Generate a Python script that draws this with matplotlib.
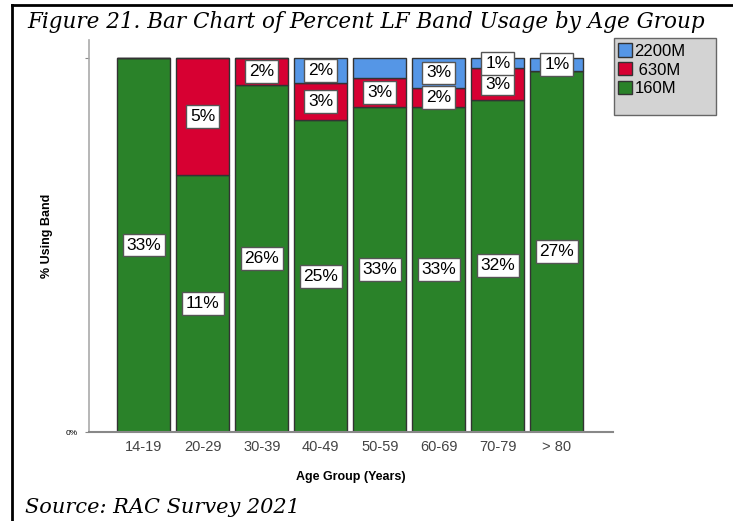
import numpy as np
import matplotlib.pyplot as plt
from matplotlib.patches import Patch, Rectangle
from matplotlib.lines import Line2D

# 年齢層ごとのバンド利用率(%)
age_groups = ['14-19', '20-29', '30-39', '40-49', '50-59', '60-69', '70-79', '> 80']
band_160m = [33, 11, 26, 25, 33, 33, 32, 27]
band_630m = [0, 5, 2, 3, 3, 2, 3, 0]
band_2200m = [0, 0, 0, 2, 2, 3, 1, 1]
# ラベルを表示しないセグメント
hide_2200m_label = [False, False, False, False, True, False, False, False]

green = '#2a8229'
red = '#d70032'
blue = '#5596e6'

# 各バーを合計で割って100%積み上げにする
g = np.array(band_160m, dtype=float)
r = np.array(band_630m, dtype=float)
b = np.array(band_2200m, dtype=float)
total = g + r + b
g_n = g / total
r_n = r / total
b_n = b / total

fig = plt.figure(figsize=(7.33, 5.21), dpi=100)
ax = fig.add_axes([0.1214, 0.1708, 0.7146, 0.7522])

x = np.arange(len(age_groups))
w = 0.9
ax.bar(x, g_n, w, color=green, edgecolor='#333333', linewidth=1)
ax.bar(x, r_n, w, bottom=g_n, color=red, edgecolor='#333333', linewidth=1)
ax.bar(x, b_n, w, bottom=g_n + r_n, color=blue, edgecolor='#333333', linewidth=1)

# 値ラベル
box = dict(boxstyle='square,pad=0.22', facecolor='white', edgecolor='#555555', linewidth=1)
def put_label(xi, y, v):
    ax.text(xi, y, f'{int(v)}%', ha='center', va='center', fontsize=12.5,
            family='Liberation Sans', bbox=box, zorder=5)

for i in range(len(age_groups)):
    put_label(x[i], g_n[i] / 2, band_160m[i])
    if band_630m[i] > 0:
        put_label(x[i], g_n[i] + r_n[i] / 2, band_630m[i])
    if band_2200m[i] > 0 and not hide_2200m_label[i]:
        put_label(x[i], g_n[i] + r_n[i] + b_n[i] / 2, band_2200m[i])

ax.set_xlim(-0.93, 7.95)
ax.set_ylim(0, 1.048)
ax.set_xticks(x)
ax.set_xticklabels(age_groups, fontsize=10.5, color='#444444', family='Liberation Sans')
ax.set_yticks([0, 1])
ax.set_yticklabels(['0%', ''], fontsize=6, family='Liberation Sans')
ax.tick_params(axis='x', length=0, pad=6)
ax.tick_params(axis='y', length=3, color='#888888', pad=5)
for s in ['top', 'right']:
    ax.spines[s].set_visible(False)
ax.spines['left'].set_color('#aaaaaa')
ax.spines['bottom'].set_color('#888888')
ax.spines['left'].set_linewidth(1.2)
ax.spines['bottom'].set_linewidth(1.5)

ax.set_xlabel('Age Group (Years)', fontsize=9, fontweight='bold', family='Liberation Sans', labelpad=12)
ax.set_ylabel('% Using Band', fontsize=9, fontweight='bold', family='Liberation Sans')
ax.yaxis.set_label_coords(-0.068, 0.5)

# 凡例(枠は別に描く)
fig.add_artist(Rectangle((0.8377, 0.7793), 0.139, 0.1478, transform=fig.transFigure,
                         facecolor='#d3d3d3', edgecolor='#666666', linewidth=1))
handles = [Patch(facecolor=blue, edgecolor='#333333'),
           Patch(facecolor=red, edgecolor='#333333'),
           Patch(facecolor=green, edgecolor='#333333')]
leg = fig.legend(handles, ['2200M', ' 630M', '160M'], loc='upper left',
                 bbox_to_anchor=(0.838, 0.923), frameon=False,
                 prop={'family': 'Liberation Sans', 'size': 12},
                 handlelength=0.85, handleheight=0.85, handletextpad=0.15,
                 labelspacing=0.2, borderpad=0.2, borderaxespad=0)

# タイトルと出典
fig.text(0.5, 0.958, 'Figure 21. Bar Chart of Percent LF Band Usage by Age Group',
         ha='center', va='center', fontsize=15.5, style='italic', family='DejaVu Serif')
fig.text(0.034, 0.025, 'Source: RAC Survey 2021', ha='left', va='center',
         fontsize=15, style='italic', family='DejaVu Serif')

# 外枠
fig.add_artist(Line2D([0.0165, 0.0165], [0, 0.99], color='black', linewidth=2))
fig.add_artist(Line2D([0.0165, 1], [0.99, 0.99], color='black', linewidth=2))

fig.savefig('out.png', dpi=100)
